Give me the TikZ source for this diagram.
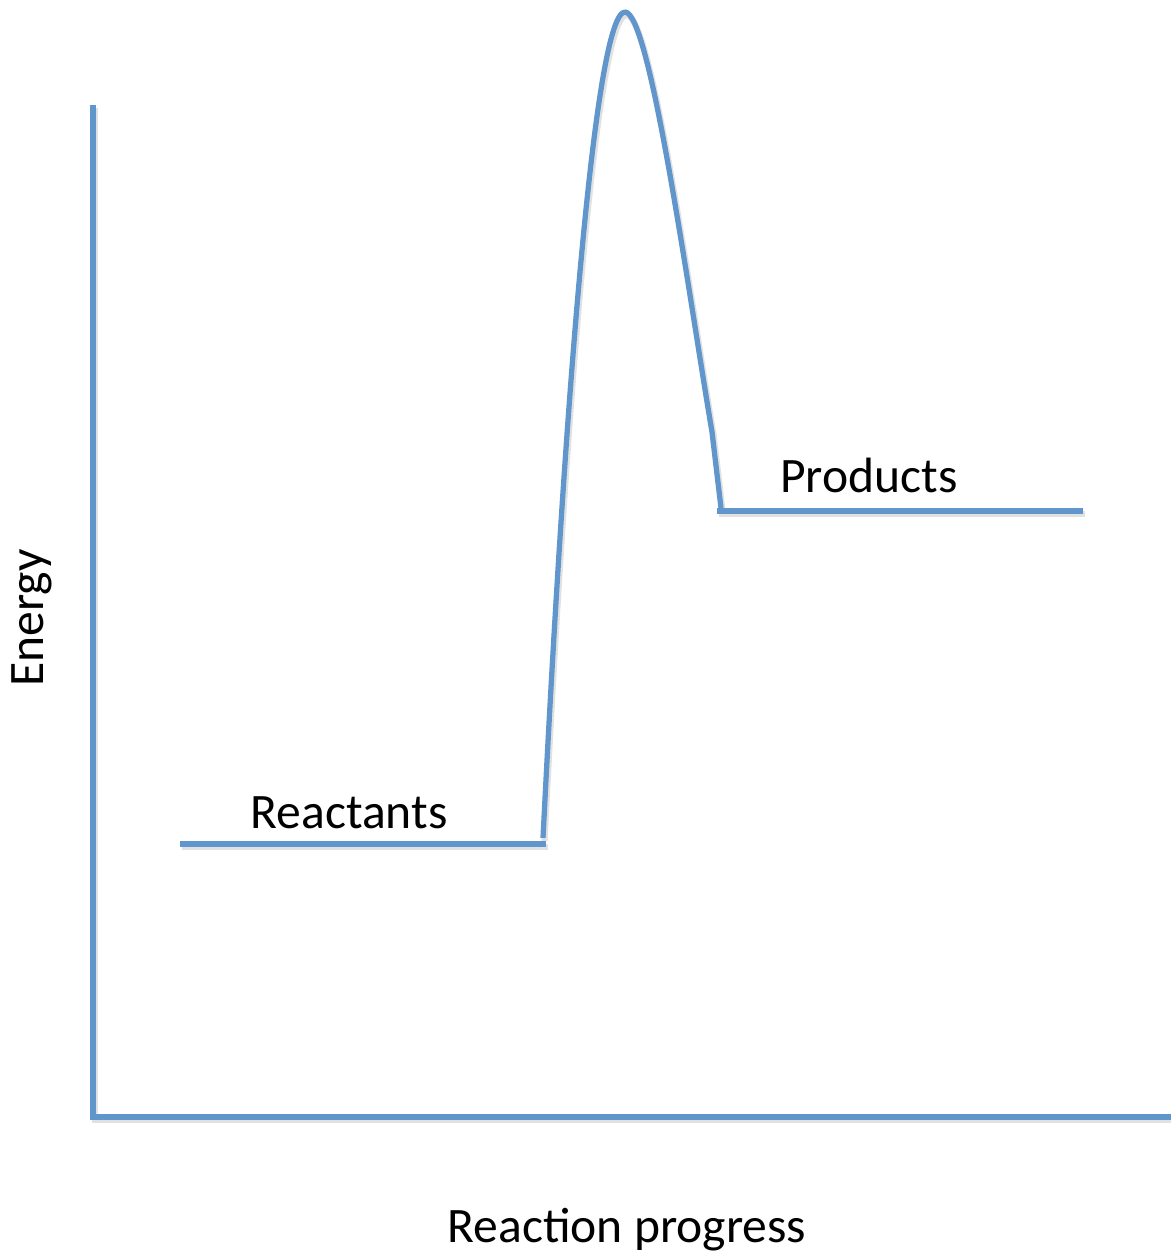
\documentclass[tikz,border=0pt]{standalone}
\usepackage{fontspec}
\setmainfont{Carlito}
\usetikzlibrary{calc}
\definecolor{CurveBlue}{RGB}{96,150,204}
\definecolor{ShadeGray}{RGB}{170,170,170}

\begin{document}
\begin{tikzpicture}[x=0.01cm,y=-0.01cm,
  curve/.style={line width=1.5pt,CurveBlue},
  shade/.style={line width=1.8pt,ShadeGray,opacity=0.35,shift={(1.5,3)}},
  lbl/.style={font=\fontsize{14.1}{17}\selectfont,inner sep=0pt}]
  \useasboundingbox (0,0) rectangle (1171,1258);
  % axes and levels, each with a soft shadow underneath
  \foreach \st in {shade,curve}{
    \draw[\st] (93,105)--(93,1117);
    \draw[\st] (90,1117)--(1171,1117);
    \draw[\st] (180,844)--(546,844);
    \draw[\st] (717,511)--(1083,511);
    \draw[\st,line join=round] (543,838) .. controls (565,400) and (595,12) .. (625,12)
      .. controls (650,12) and (688,290) .. (712,432) -- (721,508);
  }
  \node[lbl] (reactants) at (349,813) {Reactants};
  \node[lbl] (products) at (869,475) {Products};
  \node[lbl,rotate=90] (energy) at (32,618) {Energy};
  \node[lbl] (progress) at (627,1230) {Reaction progress};
\end{tikzpicture}
\end{document}
